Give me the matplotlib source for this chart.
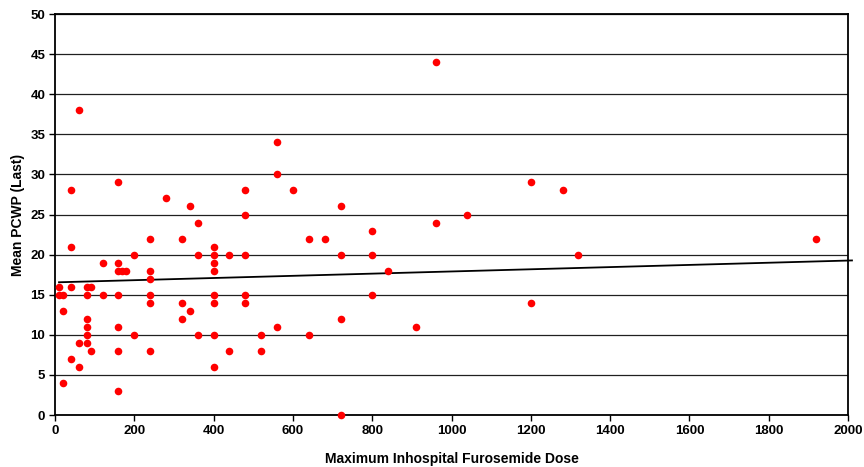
import numpy as np
import matplotlib
matplotlib.use('Agg')
import matplotlib.pyplot as plt

plt.rcParams['font.family'] = ['Liberation Sans', 'DejaVu Sans']
plt.rcParams['font.weight'] = 'bold'

# furosemide dose vs last mean PCWP
dose = [10, 10, 20, 20, 20, 40, 40, 40, 40, 60, 60, 60,
        80, 90, 80, 80, 80, 80, 80, 90, 120, 120,
        160, 160, 170, 180, 160, 160, 160, 160, 160, 200, 200,
        240, 240, 240, 240, 240, 240, 280, 320, 320, 320, 340, 340,
        360, 360, 360, 400, 400, 400, 400, 400, 400, 400, 400,
        440, 440, 480, 480, 480, 480, 480, 520, 520,
        560, 560, 560, 600, 640, 640, 680, 720, 720, 720, 720,
        800, 800, 800, 840, 910, 960, 960, 1040, 1200, 1200,
        1280, 1320, 1920]
pcwp = [16, 15, 15, 13, 4, 21, 16, 7, 28, 9, 6, 38,
        16, 16, 15, 12, 11, 10, 9, 8, 19, 15,
        19, 18, 18, 18, 15, 11, 8, 3, 29, 20, 10,
        22, 18, 17, 15, 14, 8, 27, 22, 14, 12, 13, 26,
        24, 20, 10, 21, 20, 19, 18, 15, 14, 10, 6,
        20, 8, 20, 15, 14, 28, 25, 10, 8,
        11, 34, 30, 28, 22, 10, 22, 26, 20, 12, 0,
        23, 20, 15, 18, 11, 44, 24, 25, 29, 14,
        28, 20, 22]

# linear trendline as shown on the chart
trend_slope = 0.00136
trend_intercept = 16.54
trend_range = [10, 2010]

x = np.array(dose)
y = np.array(pcwp)

fig = plt.figure(figsize=(8.64, 4.67), dpi=100)
ax = fig.add_axes([0.0637, 0.1113, 0.9178, 0.8587])

ax.scatter(x, y, s=30, c='#ff0000', marker='o', linewidths=0, zorder=3, clip_on=False)

xs = np.array(trend_range)
ax.plot(xs, trend_intercept + trend_slope * xs, color='black', lw=1.3, zorder=2, clip_on=False)

ax.set_xlim(0, 2000)
ax.set_ylim(0, 50)
ax.set_xticks(np.arange(0, 2001, 200))
ax.set_yticks(np.arange(0, 51, 5))
ax.yaxis.grid(True, color='#202020', lw=0.9)
ax.set_axisbelow(True)
for s in ax.spines.values():
    s.set_linewidth(1.3)
    s.set_color('black')

ax.tick_params(direction='out', length=4, width=1, labelsize=9.5, pad=3)
ax.set_xlabel('Maximum Inhospital Furosemide Dose', fontsize=10, fontweight='bold', labelpad=11)
ax.set_ylabel('Mean PCWP (Last)', fontsize=10, fontweight='bold', labelpad=4)

fig.savefig('out.png', dpi=100)
